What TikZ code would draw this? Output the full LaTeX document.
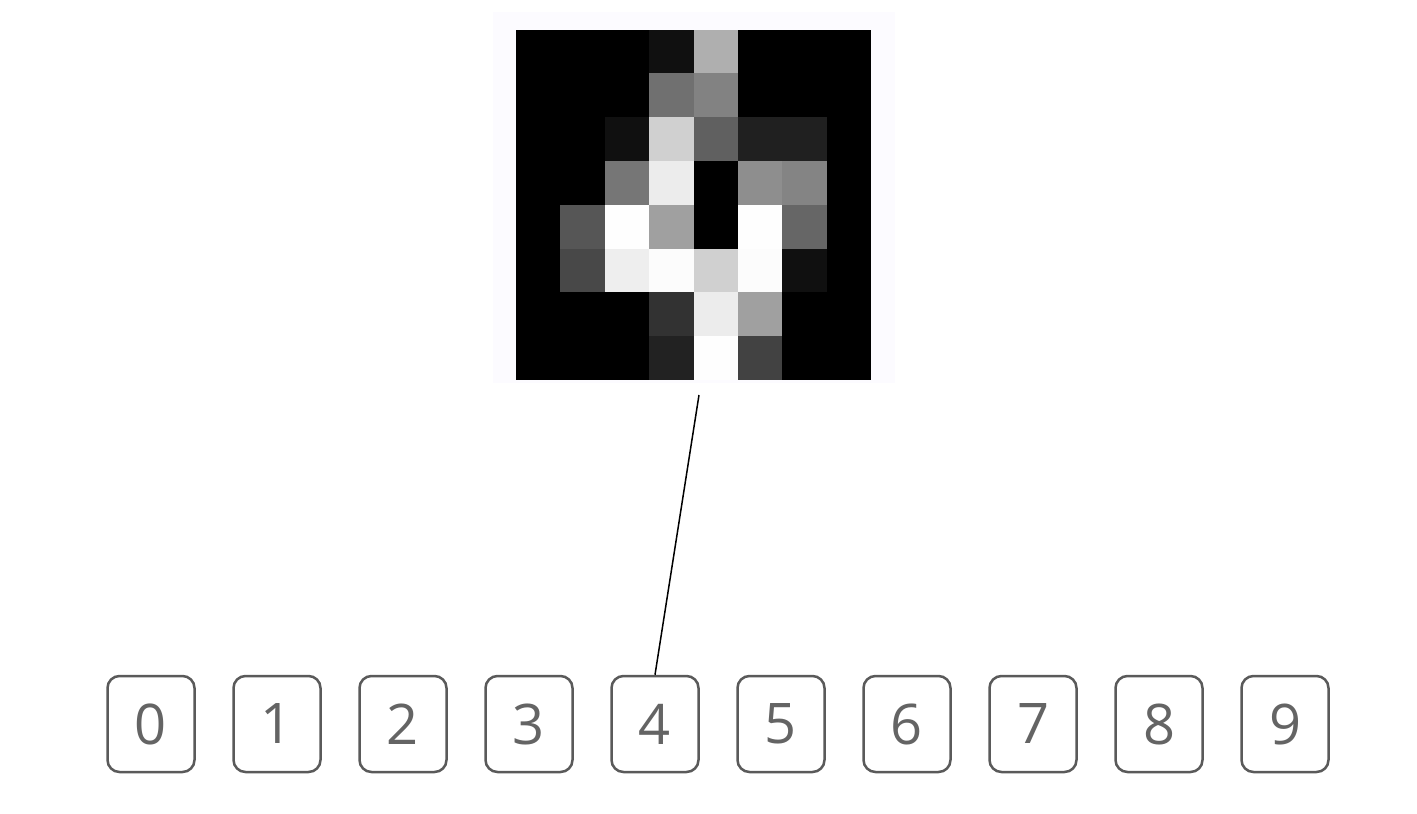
\documentclass[tikz,border=0pt]{standalone}
\usepackage{fontspec}
\setmainfont{Open Sans}
\definecolor{boxgray}{RGB}{90,90,90}
\definecolor{digitgray}{RGB}{100,100,100}
\definecolor{paper}{RGB}{252,251,255}
\begin{document}
\begin{tikzpicture}[x=1pt,y=-1pt,
  digitbox/.style={draw=boxgray, line width=2.5pt, rounded corners=12pt,
    minimum width=87pt, minimum height=96pt, inner sep=0pt,
    text=digitgray, font=\fontsize{56}{56}\selectfont},
  link/.style={draw=black, line width=1.5pt}]
\useasboundingbox (0,0) rectangle (1417,814);
\fill[white] (0,0) rectangle (1417,814);
\fill[paper] (493,12) rectangle (895,383);
\node[draw=none, minimum width=355pt, minimum height=350.5pt, inner sep=0pt, anchor=north west] (img) at (516,29.5) {};
\fill[black] (img.north west) rectangle (img.south east);
\def\cw{44.375}
\def\ch{43.8}
\foreach \row/\vals in {0/{0,0,0,16,175,0,0,0},
                        1/{0,0,0,112,130,0,0,0},
                        2/{0,0,16,208,96,32,32,0},
                        3/{0,0,118,236,0,142,132,0},
                        4/{0,86,254,160,0,254,102,0},
                        5/{0,72,238,252,208,252,16,0},
                        6/{0,0,0,50,236,160,0,0},
                        7/{0,0,0,34,254,66,0,0}} {
  \foreach \v [count=\c from 0] in \vals {
    \definecolor{cellcol}{RGB}{\v,\v,\v}
    \fill[cellcol] (516+\c*\cw,29.5+\row*\ch) rectangle (516+\c*\cw+\cw+0.3,29.5+\row*\ch+\ch+0.3);
  }
}
\foreach \i in {0,...,9} {
  \node[digitbox] (d\i) at (151+\i*126,724) {\i};
}
\coordinate (lt) at (699,395);
\draw[link] (lt) -- (d4.north);
\end{tikzpicture}
\end{document}
